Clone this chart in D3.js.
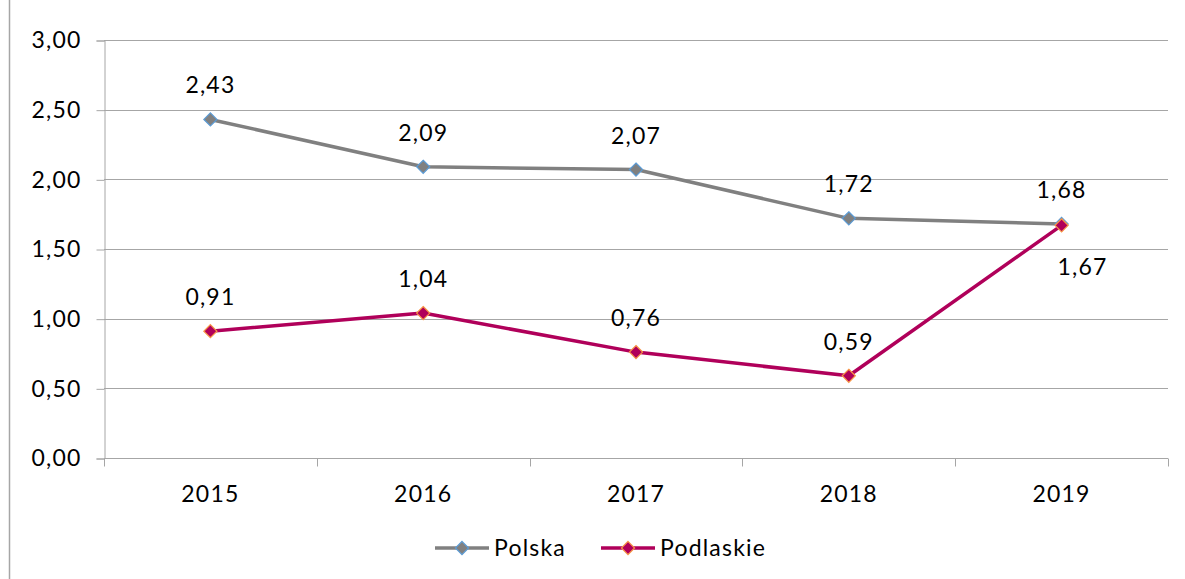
<!DOCTYPE html>
<html>
<head>
<meta charset="utf-8">
<script src="https://cdn.jsdelivr.net/npm/d3@7"></script>
<style>
  body { margin: 0; background: #fff; }
  svg { display: block; font-family: "Lato", "Open Sans", sans-serif; }
  svg text { letter-spacing: 1.2px; }
</style>
</head>
<body>
<svg id="chart"></svg>
<script>
const years = ["2015", "2016", "2017", "2018", "2019"];
const polska = [2.43, 2.09, 2.07, 1.72, 1.68];
const podlaskie = [0.91, 1.04, 0.76, 0.59, 1.67];
const yTicks = [0, 0.5, 1, 1.5, 2, 2.5, 3];

const width = 1185;
const height = 579;
const marginTop = 40;
const marginRight = 17;
const marginBottom = 121;
const marginLeft = 104;
const fontSize = 23;

const fmt = v => d3.format(".2f")(v).replace(".", ",");

const svg = d3.select("#chart")
    .attr("width", width)
    .attr("height", height)
    .attr("viewBox", `0 0 ${width} ${height}`);

// chart frame (left edge visible)
svg.append("line")
    .attr("x1", 9.5).attr("x2", 9.5)
    .attr("y1", 0).attr("y2", height)
    .attr("stroke", "#a6a6a6")
    .attr("stroke-width", 1.5);

const x = d3.scaleBand()
    .domain(years)
    .range([marginLeft, width - marginRight]);

const y = d3.scaleLinear()
    .domain([0, 3])
    .range([height - marginBottom, marginTop]);

// gridlines
svg.append("g")
    .selectAll("line")
    .data(yTicks.filter(d => d > 0))
    .join("line")
    .attr("x1", marginLeft)
    .attr("x2", width - marginRight)
    .attr("y1", d => Math.round(y(d)) + 0.5)
    .attr("y2", d => Math.round(y(d)) + 0.5)
    .attr("stroke", "#a6a6a6")
    .attr("stroke-width", 1);

// y axis
svg.append("g")
    .attr("transform", `translate(${marginLeft + 0.5},0.5)`)
    .call(d3.axisLeft(y).tickValues(yTicks).tickFormat(fmt).tickSize(8).tickPadding(15))
    .call(g => g.selectAll("line, path").attr("stroke", "#a6a6a6"))
    .call(g => g.selectAll("text")
        .attr("fill", "#000")
        .attr("font-size", fontSize)
        .attr("font-family", "Lato, 'Open Sans', sans-serif"));

// x axis
const xAxis = svg.append("g")
    .attr("transform", `translate(0,${Math.round(y(0)) + 0.5})`);
xAxis.append("line")
    .attr("x1", marginLeft).attr("x2", width - marginRight)
    .attr("stroke", "#a6a6a6");
const bounds = years.map(d => x(d)).concat([x(years[years.length - 1]) + x.bandwidth()]);
xAxis.selectAll("line.tick")
    .data(bounds)
    .join("line")
    .attr("class", "tick")
    .attr("x1", d => Math.round(d) + 0.5)
    .attr("x2", d => Math.round(d) + 0.5)
    .attr("y1", 0).attr("y2", 8)
    .attr("stroke", "#a6a6a6");
xAxis.selectAll("text")
    .data(years)
    .join("text")
    .attr("x", d => x(d) + x.bandwidth() / 2)
    .attr("y", 43)
    .attr("text-anchor", "middle")
    .attr("font-size", fontSize)
    .attr("fill", "#000")
    .text(d => d);

const series = [
    { name: "Polska", values: polska, line: "#808080", fill: "#808080", stroke: "#5b9bd5", below: [] },
    { name: "Podlaskie", values: podlaskie, line: "#b0005a", fill: "#b0005a", stroke: "#f79646", below: [4] }
];

const cx = i => x(years[i]) + x.bandwidth() / 2;
const line = d3.line().x((d, i) => cx(i)).y(d => y(d));
const diamond = d3.symbol().type(d3.symbolDiamond2).size(110);

series.forEach(s => {
    svg.append("path")
        .datum(s.values)
        .attr("fill", "none")
        .attr("stroke", s.line)
        .attr("stroke-width", 3.5)
        .attr("stroke-linejoin", "round")
        .attr("d", line);
});

series.forEach(s => {
    svg.append("g")
        .selectAll("path")
        .data(s.values)
        .join("path")
        .attr("transform", (d, i) => `translate(${cx(i)},${y(d)})`)
        .attr("d", diamond)
        .attr("fill", s.fill)
        .attr("stroke", s.stroke)
        .attr("stroke-width", 1.2);

    svg.append("g")
        .selectAll("text")
        .data(s.values)
        .join("text")
        .attr("x", (d, i) => cx(i) + (s.below.includes(i) ? 21 : 0))
        .attr("y", (d, i) => y(d) + (s.below.includes(i) ? 50 : -26))
        .attr("text-anchor", "middle")
        .attr("font-size", fontSize)
        .attr("fill", "#000")
        .text(d => fmt(d));
});

// legend
const legend = svg.append("g").attr("transform", "translate(0,548)");
const legendItems = [
    { s: series[0], x0: 435 },
    { s: series[1], x0: 601 }
];
legendItems.forEach(({ s, x0 }) => {
    legend.append("line")
        .attr("x1", x0).attr("x2", x0 + 54)
        .attr("stroke", s.line)
        .attr("stroke-width", 3.5);
    legend.append("path")
        .attr("transform", `translate(${x0 + 27},0)`)
        .attr("d", diamond)
        .attr("fill", s.fill)
        .attr("stroke", s.stroke)
        .attr("stroke-width", 1.2);
    legend.append("text")
        .attr("x", x0 + 59)
        .attr("y", 8)
        .attr("font-size", fontSize)
        .attr("fill", "#000")
        .text(s.name);
});
</script>
</body>
</html>
